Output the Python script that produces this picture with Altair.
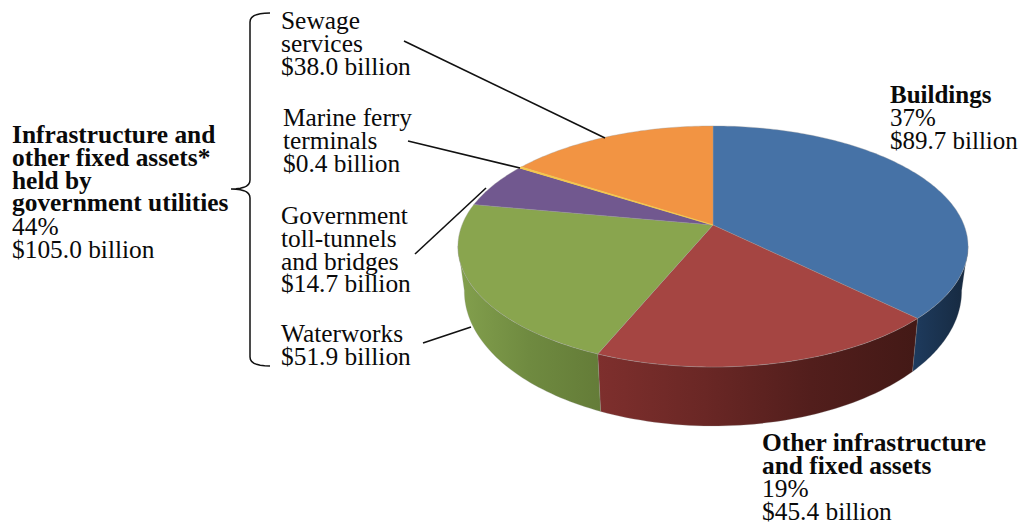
import numpy as np
import pandas as pd
import altair as alt

# Values (billions of dollars)
categories = ["Buildings", "Other infrastructure and fixed assets", "Waterworks",
              "Government toll-tunnels and bridges", "Marine ferry terminals", "Sewage services"]
values = [89.7, 45.4, 51.9, 14.7, 0.4, 38.0]
top_colors = ["#4672A6", "#A54542", "#89A54E", "#71588F", "#F4C64E", "#F29443"]
wall_stops = {
    "Buildings": ["#1E3B5E", "#16293F"],
    "Other infrastructure and fixed assets": ["#7E2F2D", "#6A2725", "#521E1C", "#431916"],
    "Waterworks": ["#83A04D", "#6F8A40", "#647C38"],
}

label_buildings = ["Buildings"]
label_buildings_sub = ["37%", "$89.7 billion"]
label_other = ["Other infrastructure", "and fixed assets"]
label_other_sub = ["19%", "$45.4 billion"]
label_infra = ["Infrastructure and", "other fixed assets*", "held by", "government utilities"]
label_infra_sub = ["44%", "$105.0 billion"]
label_sewage = ["Sewage", "services", "$38.0 billion"]
label_marine = ["Marine ferry", "terminals", "$0.4 billion"]
label_toll = ["Government", "toll-tunnels", "and bridges", "$14.7 billion"]
label_water = ["Waterworks", "$51.9 billion"]

W, H, M = 1011, 514, 8
CX, CY = 713 - M, 225 - M
F, G, K = 251.0, 116.7, 0.178   # tilted-circle projection of the pie
WALL_SCALE, WALL_YSCALE, WALL_DROP = 0.975, 1.12, 42.0
FONT = "Liberation Serif"
FS = 25.4
LH = 22.8

sx = alt.Scale(domain=[0, W], range=[0, W])
sy = alt.Scale(domain=[0, H], range=[0, H])


def rim(theta):
    x, y = np.sin(theta), np.cos(theta)
    d = 1 + K * y
    return F * x / d, -G * y / d


def poly(px, py, **mark):
    df = pd.DataFrame({"px": px, "py": py, "i": range(len(px))})
    return alt.Chart(df).mark_line(**mark).encode(
        x=alt.X("px:Q", scale=sx, axis=None),
        y=alt.Y("py:Q", scale=sy, axis=None),
        order="i:Q",
    )


def gradient(stops):
    n = len(stops) - 1
    return alt.LinearGradient(
        gradient="linear",
        stops=[alt.GradientStop(color=c, offset=i / n) for i, c in enumerate(stops)],
        x1=0, x2=1, y1=0, y2=0,
    )


shares = np.array(values) / sum(values)
ends = np.cumsum(shares) * 2 * np.pi
starts = ends - shares * 2 * np.pi
VIS0, VIS1 = np.radians(100), np.radians(260)

walls, tops, slivers = [], [], []
for name, a, b, col, share in zip(categories, starts, ends, top_colors, shares):
    t = np.linspace(a, b, max(6, int((b - a) * 60)))
    dx, dy = rim(t)
    px = np.r_[CX, CX + dx, CX]
    py = np.r_[CY, CY + dy, CY]
    if share < 0.01:
        slivers.append(poly(px, py, fill=col, stroke=col, strokeWidth=1.1))
    else:
        tops.append(poly(px, py, fill=col, stroke="#9a9a9a", strokeWidth=0.5, strokeOpacity=0.7,
                         strokeJoin="round"))
    a2, b2 = max(a, VIS0), min(b, VIS1)
    if a2 < b2:
        t = np.linspace(a2, b2, 50)
        dx, dy = rim(t)
        px = np.r_[CX + dx, (CX + WALL_SCALE * dx)[::-1], CX + dx[0]]
        py = np.r_[CY + dy, (CY + WALL_YSCALE * dy + WALL_DROP)[::-1], CY + dy[0]]
        walls.append(poly(px, py, fill=gradient(wall_stops[name]), stroke="#9a9a9a",
                          strokeWidth=0.4, strokeOpacity=0.6))


def text_block(lines, x, baseline, bold=False, fs=FS):
    df = pd.DataFrame({"t": ["\n".join(lines)]})
    return alt.Chart(df).mark_text(
        font=FONT, fontSize=fs, fontWeight="bold" if bold else "normal", color="#0a0a0a",
        align="left", baseline="alphabetic", lineBreak="\n", lineHeight=LH,
    ).encode(text="t:N", x=alt.value(x - M), y=alt.value(baseline - M))


def leader(x1, y1, x2, y2):
    return alt.Chart(pd.DataFrame({"a": [0]})).mark_rule(color="#111111", strokeWidth=1.6).encode(
        x=alt.value(x1 - M), y=alt.value(y1 - M), x2=alt.value(x2 - M), y2=alt.value(y2 - M))


def brace():
    def q(p0, c, p1, n=8):
        s = np.linspace(0, 1, n)[:, None]
        return (1 - s) ** 2 * np.array(p0) + 2 * s * (1 - s) * np.array(c) + s ** 2 * np.array(p1)
    pts = np.vstack([
        q((270, 13), (250, 13), (250, 22)),
        q((250, 180), (250, 189), (231, 189)),
        q((231, 189), (250, 189), (250, 198)),
        q((250, 357), (250, 366), (270, 366)),
    ])
    return poly(pts[:, 0] - M, pts[:, 1] - M, stroke="#111111", strokeWidth=1.5)


layers = walls + tops + slivers + [
    leader(404, 41, 605, 138),
    leader(408, 141, 520, 168),
    leader(415, 254, 486, 188),
    leader(423, 343, 471, 327),
    brace(),
    text_block(label_infra, 12, 143, True),
    text_block(label_infra_sub, 12, 235),
    text_block(label_sewage, 281, 29),
    text_block(label_marine, 283, 126),
    text_block(label_toll, 281, 224),
    text_block(label_water, 281, 342),
    text_block(label_buildings, 890, 103, True, 25),
    text_block(label_buildings_sub, 890, 126, False, 25),
    text_block(label_other, 762, 451, True),
    text_block(label_other_sub, 762, 497),
]

chart = alt.layer(*layers).properties(
    width=W, height=H, padding=0,
    autosize=alt.AutoSizeParams(type="none"),
    background="white",
).configure_view(strokeWidth=0)

chart.save("out.html", embed_options={"renderer": "svg", "actions": False})
